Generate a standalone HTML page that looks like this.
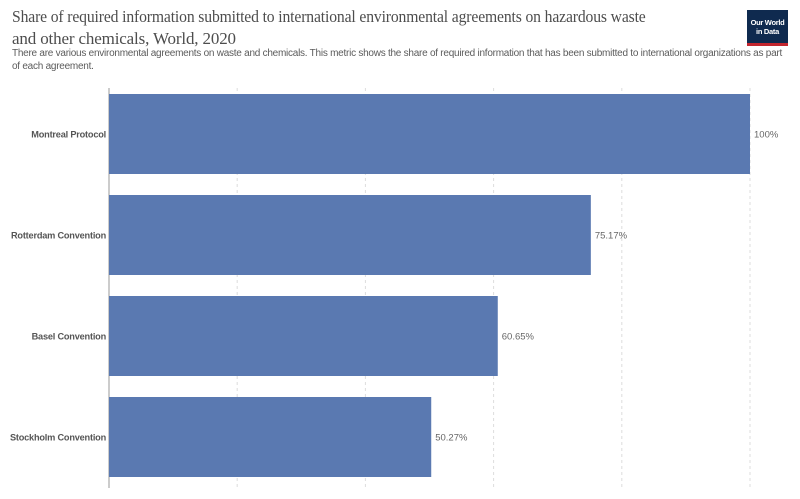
<!DOCTYPE html>
<html><head><meta charset="utf-8"><style>
body{margin:0;width:800px;height:499px;background:#fff;font-family:"Liberation Sans",sans-serif;overflow:hidden;position:relative}
#title{position:absolute;left:12px;top:6px;width:760px;font-family:"Liberation Serif",serif;font-size:17px;line-height:22px;color:#4d4d4d;letter-spacing:-0.15px}
#title span{display:block;white-space:nowrap}
#sub{position:absolute;left:12px;top:47px;width:790px;font-size:10px;line-height:13px;color:#5b5b5b;letter-spacing:-0.25px}
#logo{position:absolute;left:747px;top:10px;width:41px;height:36px;background:#0f2a4f;border-bottom:3px solid #c3262f;color:#fff;font-size:7.5px;line-height:9px;text-align:center;box-sizing:border-box;padding-top:8px;font-weight:bold;letter-spacing:-0.3px}
</style></head><body>
<div id="title"><span>Share of required information submitted to international environmental agreements on hazardous waste</span><span>and other chemicals, World, 2020</span></div>
<div id="sub">There are various environmental agreements on waste and chemicals. This metric shows the share of required information that has been submitted to international organizations as part<br>of each agreement.</div>
<div id="logo">Our World<br>in Data</div>
<svg id="chart" width="800" height="499" style="position:absolute;left:0;top:0"></svg>
<script>
const categories=["Montreal Protocol","Rotterdam Convention","Basel Convention","Stockholm Convention"];
const values=[100,75.17,60.65,50.27];
const labels=["100%","75.17%","60.65%","50.27%"];
const ticks=[0,20,40,60,80,100];
const ns="http://www.w3.org/2000/svg",svg=document.getElementById('chart');
const x0=109,x1=750,top0=94,step=101,bh=80;
const xs=v=>x0+(v/100)*(x1-x0);
function mk(t,a){const e=document.createElementNS(ns,t);for(const k in a)e.setAttribute(k,a[k]);svg.appendChild(e);return e;}
const tw=document.getElementById('title');tw.querySelectorAll('span').forEach(s=>{const w=s.getBoundingClientRect().width;if(s.textContent.length>60&&w>700){s.style.transform='scaleX('+(700/w)+')';s.style.transformOrigin='left';}});
ticks.forEach(t=>{if(t===0)return;
const g=mk('line',{x1:xs(t),x2:xs(t),y1:88,y2:488,stroke:'#ddd','stroke-dasharray':'3,3'});

});
const ax=mk('line',{x1:x0,x2:x0,y1:88,y2:488,stroke:'#999'});


categories.forEach((c,i)=>{const y=top0+i*step;
const r=mk('rect',{x:x0,y:y,width:xs(values[i])-x0,height:bh,fill:'#5a79b1'});


const l=mk('text',{x:106,y:y+bh/2+3.5,'text-anchor':'end','font-size':'9.2','font-weight':'bold',fill:'#555','letter-spacing':'-0.2'});l.textContent=c;


const v=mk('text',{x:xs(values[i])+4,y:y+bh/2+3.5,'font-size':'9.5',fill:'#666'});v.textContent=labels[i];

});
</script>
</body></html>
